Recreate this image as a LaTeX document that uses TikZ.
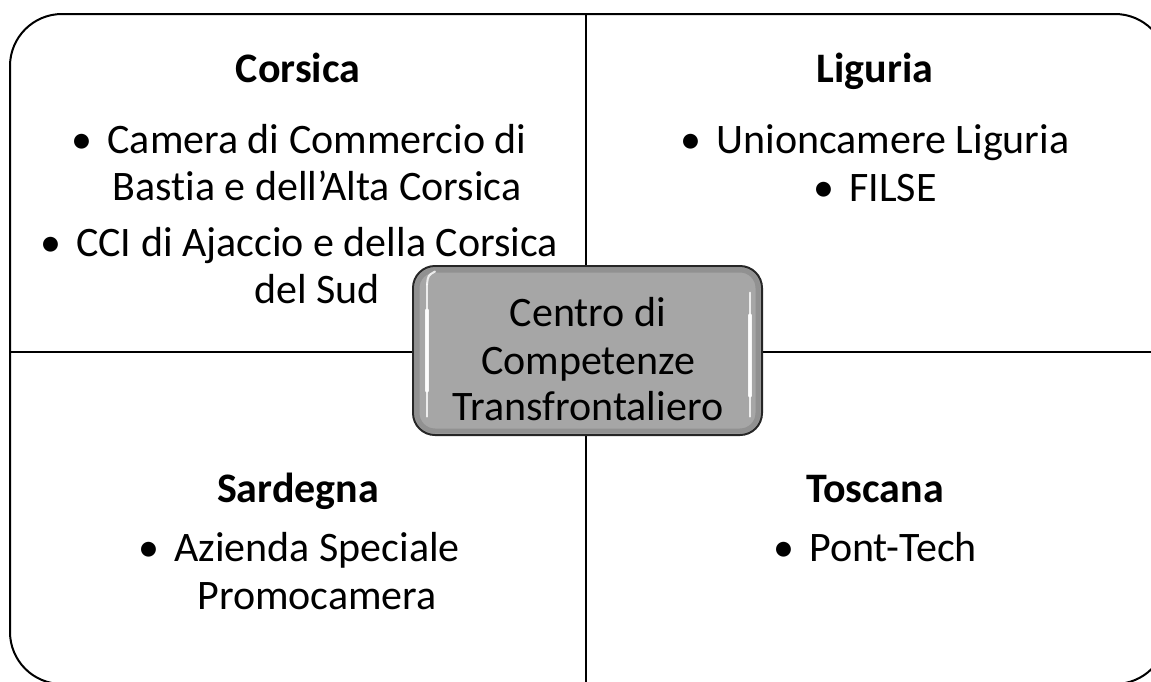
\documentclass[tikz,border=0pt]{standalone}
\usepackage{fontspec}
\setmainfont{Carlito}[Ligatures={NoCommon}]
\newcommand\mybul{\makebox[36pt][l]{\textbullet}}
\begin{document}
\begin{tikzpicture}[x=1pt,y=-1pt,
  every node/.style={inner sep=0pt, outer sep=0pt, font=\fontsize{42}{47}\selectfont},
  title/.style={anchor=base, font=\fontsize{42}{47}\selectfont\bfseries},
  cline/.style={anchor=base},
  frame/.style={draw=black, line width=2pt, rounded corners=52pt},
  divider/.style={draw=black, line width=1.6pt},
  centerbox/.style={draw=black!85, line width=2pt, rounded corners=22pt,
    fill={rgb,255:red,166;green,166;blue,166},
    minimum width=349pt, minimum height=169pt},
  bevel/.style={draw=black, line width=5pt, opacity=0.12, rounded corners=18pt},
  hl/.style={draw=white, line width=2pt, line cap=round, opacity=0.8},
  hlthick/.style={draw=white, line width=4pt, line cap=round, opacity=0.9}
]
\useasboundingbox (0,0) rectangle (1151,681);
\clip (0,0) rectangle (1151,681);
\draw[frame] (10,14) rectangle (1167,684);
\coordinate (vtop) at (586,14);
\coordinate (vbot) at (586,684);
\coordinate (hleft) at (10,352);
\coordinate (hright) at (1167,352);
\draw[divider] (vtop) -- (vbot);
\draw[divider] (hleft) -- (hright);
% Corsica
\node[title] (cortitle) at (298,82) {Corsica};
\node[cline] (cor1) at (299,153) {\mybul Camera di Commercio di};
\node[cline] (cor2) at (317,200) {Bastia e dell’Alta Corsica};
\node[cline] (cor3) at (299,256) {\mybul CCI di Ajaccio e della Corsica};
\node[cline] (cor4) at (317,303) {del Sud};
% Liguria
\node[title] (ligtitle) at (875,82) {Liguria};
\node[cline] (lig1) at (875,153) {\mybul Unioncamere Liguria};
\node[cline] (lig2) at (875,201) {\mybul FILSE};
% Sardegna
\node[title] (sartitle) at (298,502) {Sardegna};
\node[cline] (sar1) at (299,561) {\mybul Azienda Speciale};
\node[cline] (sar2) at (317,609) {Promocamera};
% Toscana
\node[title] (tostitle) at (875,502) {Toscana};
\node[cline] (tos1) at (875,561) {\mybul Pont-Tech};
% centre
\node[centerbox] (ctr) at (587.5,350.5) {};
\draw[bevel] ([shift={(4,4)}]ctr.north west) rectangle ([shift={(-4,-4)}]ctr.south east);
\draw[hl] ([shift={(14,-66)}]ctr.west) -- ([shift={(14,66)}]ctr.west);
\draw[hlthick] ([shift={(14,-40)}]ctr.west) -- ([shift={(14,40)}]ctr.west);
\draw[hl] ([shift={(14,-66)}]ctr.west) .. controls ([shift={(15,-75)}]ctr.west) .. ([shift={(22,-79)}]ctr.west);
\draw[hl] ([shift={(-12,-58)}]ctr.east) -- ([shift={(-12,66)}]ctr.east);
\draw[hlthick] ([shift={(-12,-35)}]ctr.east) -- ([shift={(-12,45)}]ctr.east);
\node[cline] (ctr1) at (588,326) {Centro di};
\node[cline] (ctr2) at (588,374) {Competenze};
\node[cline] (ctr3) at (588,420) {Transfrontaliero};
\end{tikzpicture}
\end{document}
